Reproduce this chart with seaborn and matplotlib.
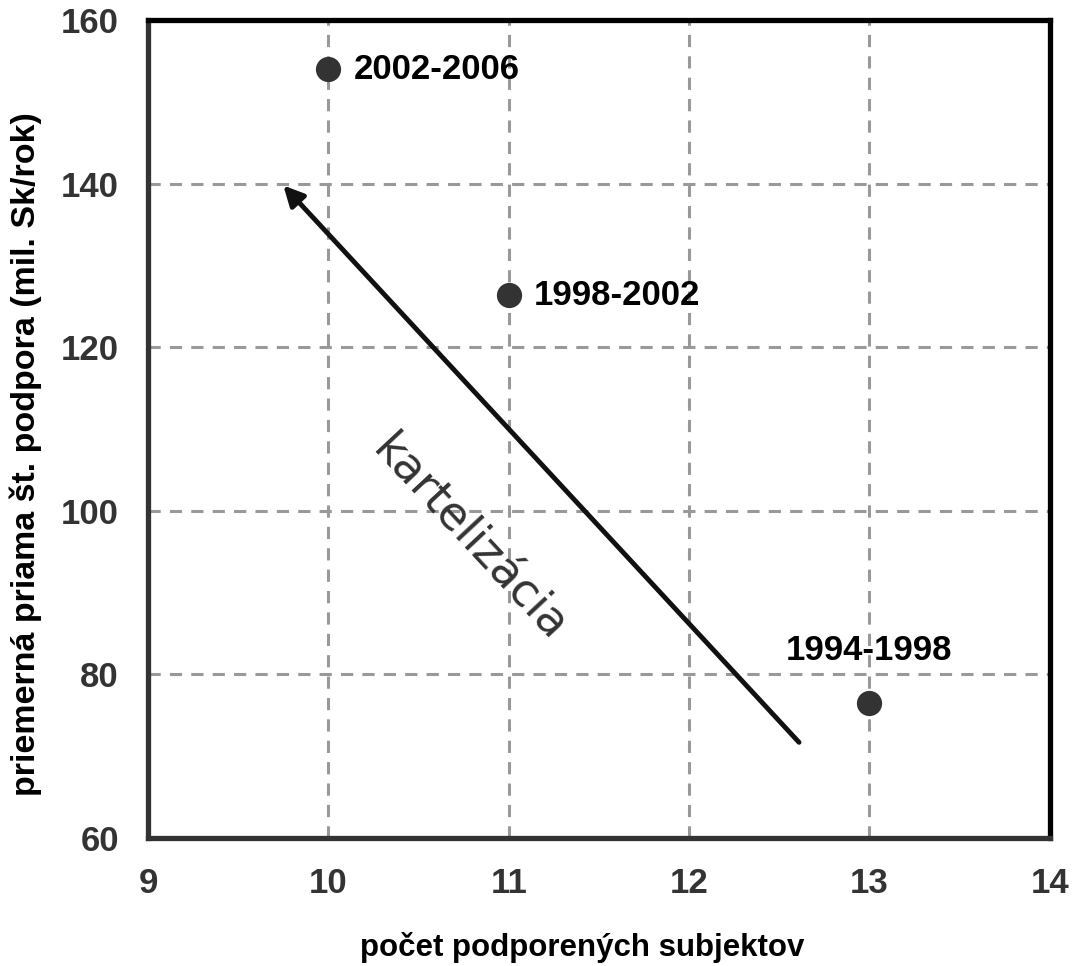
import matplotlib
matplotlib.use("Agg")
import matplotlib.pyplot as plt
import seaborn as sns
import pandas as pd

# data
periods = ["1994-1998", "1998-2002", "2002-2006"]
subjects = [13, 11, 10]
support = [76.5, 126.4, 154.0]

# trend arrow (tail -> head) and its label
arrow_tail = (12.61, 71.7)
arrow_head = (9.75, 139.8)
arrow_text = "kartelizácia"

x_ticks = [9, 10, 11, 12, 13, 14]
y_ticks = [60, 80, 100, 120, 140, 160]

df = pd.DataFrame({"period": periods, "x": subjects, "y": support})

sns.set_theme(style="white")
plt.rcParams["font.family"] = ["Liberation Sans", "DejaVu Sans"]

fig = plt.figure(figsize=(10.81, 9.66), dpi=100)
ax = fig.add_axes([0.137, 0.1325, 0.834, 0.8465])

ax.set_axisbelow(True)
ax.grid(True, color="#999999", linestyle=(0, (4, 3)), linewidth=2.2)

sns.scatterplot(data=df, x="x", y="y", color="#333333", s=330,
                edgecolor="#333333", linewidth=0, ax=ax, zorder=3, legend=False)

ax.set_xlim(9, 14)
ax.set_ylim(60, 160)
ax.set_xticks(x_ticks)
ax.set_yticks(y_ticks)
ax.tick_params(axis="both", direction="out", length=7, width=3.5, color="#333333",
               labelsize=25, labelcolor="#333333", pad=14)
for lbl in ax.get_xticklabels() + ax.get_yticklabels():
    lbl.set_fontweight("bold")

for side in ["left", "bottom"]:
    ax.spines[side].set_color("#333333")
    ax.spines[side].set_linewidth(3.8)
for side in ["top", "right"]:
    ax.spines[side].set_color("black")
    ax.spines[side].set_linewidth(3.8)

ax.set_xlabel("počet podporených subjektov", fontsize=22.5, fontweight="bold",
              color="black")
ax.set_ylabel("priemerná priama št. podpora (mil. Sk/rok)", fontsize=24.5,
              fontweight="bold", color="black")
ax.xaxis.set_label_coords(0.482, -0.115)
ax.yaxis.set_label_coords(-0.118, 0.469)

# point labels
for p, xv, yv in zip(periods, subjects, support):
    if p == "1994-1998":
        ax.annotate(p, (xv, yv), xytext=(0, 26), textcoords="offset points",
                    ha="center", va="bottom", fontsize=25, fontweight="bold", color="black")
    else:
        ax.annotate(p, (xv, yv), xytext=(18, 0), textcoords="offset points",
                    ha="left", va="center", fontsize=25, fontweight="bold", color="black")

ax.annotate("", xy=arrow_head, xytext=arrow_tail,
            arrowprops=dict(arrowstyle="-|>", color="#111111", lw=3.5,
                            mutation_scale=30, shrinkA=0, shrinkB=0))

ax.text(10.78, 96.5, arrow_text, rotation=-47, rotation_mode="anchor",
        ha="center", va="center", fontsize=33, color="#333333",
        family=["DejaVu Sans"])

fig.savefig("out.png", dpi=100)
